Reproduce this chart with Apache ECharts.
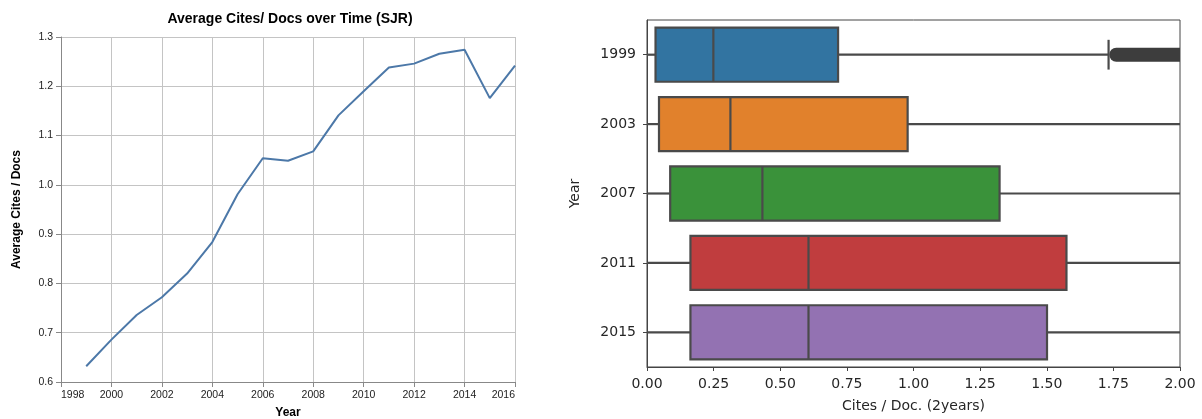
<!DOCTYPE html>
<html>
<head>
<meta charset="utf-8">
<script src="https://cdn.jsdelivr.net/npm/echarts@6/dist/echarts.min.js"></script>
<style>
html, body { margin: 0; padding: 0; background: #fff; }
#chart { width: 1202px; height: 419px; }
</style>
</head>
<body>
<div id="chart"></div>
<script>
// line chart : average cites per doc, by year
var lineYears = [1999, 2000, 2001, 2002, 2003, 2004, 2005, 2006, 2007, 2008,
	2009, 2010, 2011, 2012, 2013, 2014, 2015, 2016];
var avgCites = [0.632, 0.686, 0.736, 0.772, 0.820, 0.884, 0.981, 1.054, 1.049, 1.068,
	1.141, 1.190, 1.238, 1.246, 1.266, 1.274, 1.176, 1.242];

// box plot : cites / doc (2years)
var boxYears = ['1999', '2003', '2007', '2011', '2015'];
var lowWhiskers = [0, 0, 0, 0, 0];
var q1s = [0.032, 0.045, 0.087, 0.163, 0.163];
var medians = [0.249, 0.313, 0.433, 0.606, 0.606];
var q3s = [0.717, 0.978, 1.323, 1.574, 1.501];
var highWhiskers = [1.732, 2.4, 2.9, 3.3, 3.2]; // only 1999 ends inside the axis
var flierStarts = [1.742, null, null, null, null];
var flierEnds = [2.5, null, null, null, null];

var boxColors = ['#3274a1', '#e1812c', '#3a923a', '#c03d3e', '#9372b2'];

var CitesChart = {
	init : function() {
		var chart = echarts.init(document.getElementById('chart'));
		chart.setOption(CitesChart.buildOption(), true);
	},

	/**
	 * draw one horizontal box
	 */
	renderBox : function(params, api) {
		var i = params.dataIndex;
		var lo = api.coord([lowWhiskers[i], i]);
		var a = api.coord([q1s[i], i]);
		var m = api.coord([medians[i], i]);
		var b = api.coord([q3s[i], i]);
		var hi = api.coord([highWhiskers[i], i]);
		var band = api.size([0, 1])[1];
		var h = band * 0.78;
		var y = a[1];
		var capH = h * 0.55;
		var line = { stroke : '#4a4a4a', lineWidth : 2.2 };
		var children = [];
		if (flierStarts[i] != null) {
			var f0 = api.coord([flierStarts[i], i]);
			var f1 = api.coord([flierEnds[i], i]);
			children.push({
				type : 'line',
				shape : { x1 : f0[0] + 5, y1 : y, x2 : f1[0], y2 : y },
				style : { stroke : '#3d3d3d', lineWidth : 14, lineCap : 'round' }
			});
		}
		children.push(
			{ type : 'line', shape : { x1 : lo[0], y1 : y, x2 : a[0], y2 : y }, style : line },
			{ type : 'line', shape : { x1 : b[0], y1 : y, x2 : hi[0], y2 : y }, style : line },
			{ type : 'line', shape : { x1 : hi[0], y1 : y - capH / 2, x2 : hi[0], y2 : y + capH / 2 }, style : line },
			{
				type : 'rect',
				shape : { x : a[0], y : y - h / 2, width : b[0] - a[0], height : h },
				style : { fill : boxColors[i], stroke : '#4a4a4a', lineWidth : 2.2 }
			},
			{ type : 'line', shape : { x1 : m[0], y1 : y - h / 2, x2 : m[0], y2 : y + h / 2 }, style : line }
		);
		return { type : 'group', children : children };
	},

	buildOption : function() {
		var lineData = [];
		for (var i = 0; i < lineYears.length; i++) {
			lineData.push([lineYears[i], avgCites[i]]);
		}
		var boxData = [];
		for (var j = 0; j < boxYears.length; j++) {
			boxData.push([q1s[j], j, medians[j], q3s[j]]);
		}
		var vegaFont = 'Liberation Sans, Arial, sans-serif';
		var mplFont = 'DejaVu Sans, sans-serif';
		var option = {
			animation : false,
			backgroundColor : '#fff',
			title : {
				text : 'Average Cites/ Docs over Time (SJR)',
				left : 285,
				top : 7,
				textAlign : 'center',
				textStyle : { fontFamily : vegaFont, fontSize : 14, fontWeight : 'bold', color : '#000' }
			},
			grid : [
				{ left : 61, top : 37, width : 454, height : 345, outerBoundsMode : 'none', containLabel : false },
				{ left : 647, top : 20, width : 533, height : 347, show : true, outerBoundsMode : 'none',
					containLabel : false, borderColor : '#444', borderWidth : 1, backgroundColor : 'transparent' }
			],
			xAxis : [ {
				gridIndex : 0,
				type : 'value',
				min : 1998,
				max : 2016,
				interval : 2,
				name : 'Year',
				nameLocation : 'middle',
				nameGap : 25,
				nameTextStyle : { fontFamily : vegaFont, fontSize : 12, fontWeight : 'bold', color : '#000' },
				axisLine : { show : true, onZero : false, lineStyle : { color : '#888', width : 1 } },
				axisTick : { show : true, length : 5, lineStyle : { color : '#888' } },
				axisLabel : { fontFamily : vegaFont, fontSize : 10.5, color : '#222', margin : 8,
					alignMinLabel : 'left', alignMaxLabel : 'right',
					formatter : function(v) { return String(v); } },
				splitLine : { show : true, lineStyle : { color : '#c4c4c4', width : 1 } }
			}, {
				gridIndex : 1,
				type : 'value',
				min : 0,
				max : 2,
				interval : 0.25,
				name : 'Cites / Doc. (2years)',
				nameLocation : 'middle',
				nameGap : 32,
				nameTextStyle : { fontFamily : mplFont, fontSize : 14, color : '#262626' },
				axisLine : { show : true, onZero : false, lineStyle : { color : '#444', width : 1 } },
				axisTick : { show : true, length : 4, lineStyle : { color : '#444' } },
				axisLabel : { fontFamily : mplFont, fontSize : 14, color : '#262626', margin : 10,
					formatter : function(v) { return v.toFixed(2); } },
				splitLine : { show : false }
			} ],
			yAxis : [ {
				gridIndex : 0,
				type : 'value',
				min : 0.6,
				max : 1.3,
				interval : 0.1,
				name : 'Average Cites / Docs',
				nameLocation : 'middle',
				nameGap : 38,
				nameTextStyle : { fontFamily : vegaFont, fontSize : 12, fontWeight : 'bold', color : '#000' },
				axisLine : { show : true, lineStyle : { color : '#888', width : 1 } },
				axisTick : { show : true, length : 5, lineStyle : { color : '#888' } },
				axisLabel : { fontFamily : vegaFont, fontSize : 10.5, color : '#222', margin : 8,
					formatter : function(v) { return v.toFixed(1); } },
				splitLine : { show : true, lineStyle : { color : '#c4c4c4', width : 1 } }
			}, {
				gridIndex : 1,
				type : 'category',
				inverse : true,
				data : boxYears,
				name : 'Year',
				nameLocation : 'middle',
				nameGap : 65,
				nameTextStyle : { fontFamily : mplFont, fontSize : 14, color : '#262626' },
				axisLine : { show : true, lineStyle : { color : '#444', width : 1 } },
				axisTick : { show : true, length : 4, alignWithLabel : true, lineStyle : { color : '#444' } },
				axisLabel : { fontFamily : mplFont, fontSize : 14, color : '#262626', margin : 11 },
				splitLine : { show : false }
			} ],
			series : [ {
				name : 'Average Cites / Docs',
				type : 'line',
				xAxisIndex : 0,
				yAxisIndex : 0,
				symbol : 'none',
				lineStyle : { color : '#4c78a8', width : 2 },
				data : lineData
			}, {
				name : 'Cites / Doc. (2years)',
				type : 'custom',
				xAxisIndex : 1,
				yAxisIndex : 1,
				clip : true,
				renderItem : CitesChart.renderBox,
				encode : { x : [0, 2, 3], y : 1 },
				data : boxData
			} ]
		};
		return option;
	}
};
CitesChart.init();
</script>
</body>
</html>
